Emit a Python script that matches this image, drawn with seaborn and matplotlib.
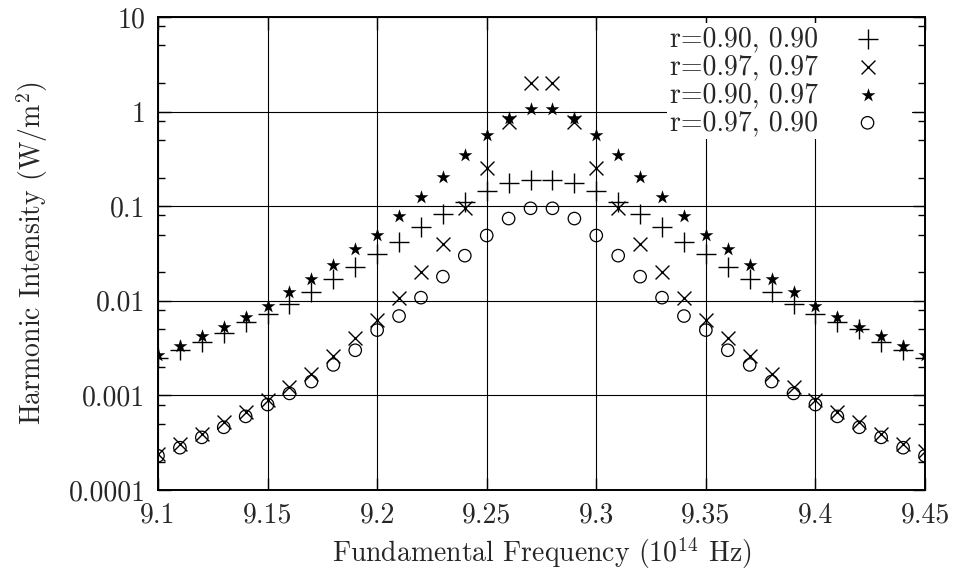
import numpy as np
import pandas as pd
import matplotlib
matplotlib.use("Agg")
import matplotlib.pyplot as plt
import matplotlib.ticker as mticker
import seaborn as sns

freq = [9.10, 9.11, 9.12, 9.13, 9.14, 9.15, 9.16, 9.17, 9.18, 9.19, 9.20, 9.21,
        9.22, 9.23, 9.24, 9.25, 9.26, 9.27, 9.28, 9.29, 9.30, 9.31, 9.32, 9.33,
        9.34, 9.35, 9.36, 9.37, 9.38, 9.39, 9.40, 9.41, 9.42, 9.43, 9.44, 9.45]

r90_90 = [0.0025, 0.0030, 0.0037, 0.0046, 0.0059, 0.0073, 0.0092, 0.0125, 0.017,
          0.023, 0.031, 0.042, 0.061, 0.083, 0.11, 0.146, 0.177, 0.19, 0.19,
          0.177, 0.146, 0.11, 0.083, 0.061, 0.042, 0.031, 0.023, 0.017, 0.0125,
          0.0092, 0.0073, 0.0059, 0.0050, 0.0037, 0.0030, 0.0025]
r97_97 = [0.00024, 0.00031, 0.00039, 0.00052, 0.00066, 0.00089, 0.00124, 0.0017,
          0.0026, 0.0040, 0.0063, 0.0108, 0.020, 0.040, 0.095, 0.255, 0.78, 2.0,
          2.0, 0.78, 0.255, 0.095, 0.040, 0.020, 0.0108, 0.0063, 0.0040, 0.0026,
          0.0017, 0.00124, 0.00089, 0.00066, 0.00052, 0.00039, 0.00031, 0.00026]
r90_97 = [0.0027, 0.0033, 0.0042, 0.0053, 0.0068, 0.0089, 0.0125, 0.017, 0.024,
          0.035, 0.050, 0.078, 0.126, 0.205, 0.35, 0.57, 0.86, 1.07, 1.07, 0.86,
          0.57, 0.35, 0.205, 0.126, 0.078, 0.050, 0.035, 0.024, 0.017, 0.0125,
          0.0089, 0.0068, 0.0053, 0.0042, 0.0033, 0.0027]
r97_90 = [0.00023, 0.00028, 0.00036, 0.00046, 0.00060, 0.00080, 0.00105, 0.0014,
          0.0021, 0.0030, 0.0049, 0.0069, 0.0108, 0.018, 0.030, 0.049, 0.074,
          0.095, 0.095, 0.074, 0.049, 0.030, 0.018, 0.0108, 0.0069, 0.0049, 0.0030,
          0.0021, 0.0014, 0.00105, 0.00080, 0.00060, 0.00046, 0.00036, 0.00028,
          0.00023]

labels = ["r=0.90, 0.90", "r=0.97, 0.97", "r=0.90, 0.97", "r=0.97, 0.90"]
xticks = [9.1, 9.15, 9.2, 9.25, 9.3, 9.35, 9.4, 9.45]
xtick_labels = ["9.1", "9.15", "9.2", "9.25", "9.3", "9.35", "9.4", "9.45"]
yticks = [0.0001, 0.001, 0.01, 0.1, 1, 10]
ytick_labels = ["0.0001", "0.001", "0.01", "0.1", "1", "10"]

sns.set_style("ticks")
plt.rcParams["font.family"] = ["cmr10", "DejaVu Serif"]
plt.rcParams["mathtext.fontset"] = "cm"
plt.rcParams["axes.formatter.use_mathtext"] = True
plt.rcParams["axes.unicode_minus"] = False

fig = plt.figure(figsize=(9.57, 5.73), dpi=100)
ax = fig.add_axes([158 / 957, 1 - 490 / 573, (925 - 158) / 957, (490 - 17) / 573])

series = [r90_90, r97_97, r90_97, r97_90]
styles = [
    dict(marker="+", s=190, linewidth=1.0, color="black"),
    dict(marker="x", s=100, linewidth=1.0, color="black"),
    dict(marker="*", s=110, linewidth=0, color="black"),
    dict(marker="o", s=80, linewidth=0.9, facecolor="none", edgecolor="black"),
]
for vals, lab, st in zip(series, labels, styles):
    df = pd.DataFrame({"freq": freq, "intensity": vals})
    sns.scatterplot(data=df, x="freq", y="intensity", ax=ax, label=lab,
                    zorder=3, **st)

ax.set_yscale("log")
ax.set_xlim(9.1, 9.45)
ax.set_ylim(0.0001, 10)

ax.xaxis.set_major_locator(mticker.FixedLocator(xticks))
ax.set_xticklabels(xtick_labels)
ax.yaxis.set_major_locator(mticker.FixedLocator(yticks))
ax.set_yticklabels(ytick_labels)
ax.yaxis.set_minor_locator(mticker.LogLocator(base=10, subs=(2.0, 5.0, 8.0)))
ax.yaxis.set_minor_formatter(mticker.NullFormatter())
ax.xaxis.set_minor_locator(mticker.NullLocator())

ax.tick_params(axis="both", which="major", direction="in", length=9, width=1.0,
               top=True, right=True, labelsize=20, pad=9, color="black")
ax.tick_params(axis="y", which="minor", direction="in", length=5, width=1.0,
               right=True, left=True, color="black")

ax.grid(True, which="major", color="black", linewidth=0.8)
ax.set_axisbelow(True)
for sp in ax.spines.values():
    sp.set_visible(True)
    sp.set_linewidth(1.4)
    sp.set_color("black")

ax.set_xlabel("Fundamental Frequency (10$^{14}$ Hz)", fontsize=20, labelpad=5)
ax.set_ylabel("Harmonic Intensity (W/m$^2$)", fontsize=20, labelpad=13)

leg = ax.legend(loc="upper right", bbox_to_anchor=(1 - 13 / 767, 1 - 6 / 473),
                frameon=True, fancybox=False, framealpha=1, facecolor="white",
                edgecolor="none", fontsize=20, markerfirst=False,
                borderpad=0.1, handletextpad=0.28, handlelength=3.0,
                labelspacing=0.06, borderaxespad=0.0)
leg.set_zorder(4)

fig.savefig("out.png", dpi=100)
